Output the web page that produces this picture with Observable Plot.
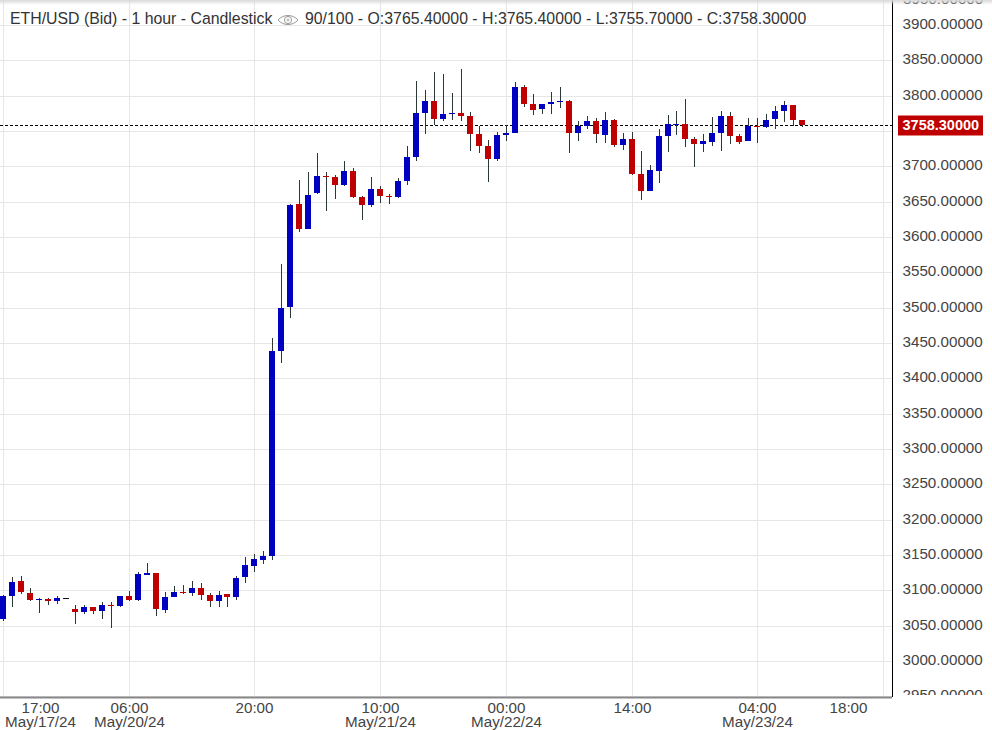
<!DOCTYPE html>
<html>
<head>
<meta charset="utf-8">
<script src="https://cdn.jsdelivr.net/npm/d3@7"></script>
<script src="https://cdn.jsdelivr.net/npm/@observablehq/plot@0.6"></script>
<style>
  html, body { margin: 0; padding: 0; background: #fff; }
  #wrap { position: relative; width: 992px; height: 730px; overflow: hidden; font-family: "Liberation Sans", Arial, sans-serif; }
  #shade { position: absolute; left: 0; top: 0; width: 992px; height: 5px; background: linear-gradient(#d9d9d9, rgba(255,255,255,0)); }
  #title { position: absolute; left: 10px; top: 10px; font-size: 15.85px; line-height: 18px; color: #333; white-space: nowrap; }
  #title svg { position: absolute; left: 267px; top: 3px; }
  #title .ohlc { position: absolute; left: 295px; top: 0; }
</style>
</head>
<body>
<div id="wrap">
  <div id="chart"></div>
  <div id="shade"></div>
  <div id="title">ETH/USD (Bid) - 1 hour - Candlestick
    <svg width="22" height="14" viewBox="0 0 22 14"><path d="M1 7 C6 1 16 1 21 7 C16 13 6 13 1 7 Z" fill="none" stroke="#999" stroke-width="1"/><circle cx="11" cy="7" r="3.6" fill="none" stroke="#999" stroke-width="1"/><circle cx="11" cy="7" r="1.4" fill="#bbb"/></svg>
    <span class="ohlc">90/100 - O:3765.40000 - H:3765.40000 - L:3755.70000 - C:3758.30000</span>
  </div>
</div>
<script>
const opens = [3059.5,3092,3113.4,3096.4,3086.4,3087.9,3085,3088.8,3073.7,3069.4,3076.5,3070.9,3079.4,3078,3092.1,3086.5,3121.9,3124.7,3072.3,3090.7,3097.8,3096.4,3103.5,3093.5,3085,3095,3090.7,3119,3134.6,3143.2,3148.8,3438.7,3501,3647,3611.6,3662.6,3686.6,3685.2,3673.9,3693.7,3656.9,3645.6,3668.2,3658.3,3656.9,3679.6,3713.5,3775.9,3792.8,3767.4,3774.4,3775.9,3771.6,3746.1,3729.1,3710.7,3744.7,3747.5,3812.7,3788.6,3781.5,3788.6,3791.3,3792.8,3747.5,3757.4,3764.5,3744.7,3765.9,3730.5,3739,3689.4,3665.4,3693.7,3743.2,3758.7,3760.2,3739,3731.9,3734.8,3747.5,3771.6,3743.2,3736.2,3757.4,3756,3767.3,3778.6,3787.1,3765.4];
const highs = [3093.5,3119,3120.5,3103.5,3089.3,3089.3,3092,3088.8,3079.4,3079.4,3076.5,3083.6,3083.6,3092.1,3099.2,3126.1,3138.9,3124.7,3097.8,3106.3,3107.7,3113.4,3110.5,3096.4,3099.2,3095,3120.5,3147.4,3151.7,3155.9,3457,3562,3647,3681,3692.3,3719.2,3692.3,3688,3707.9,3698,3658.3,3685.2,3672.5,3661.2,3683.8,3729.1,3821.2,3808.4,3833.9,3831.1,3804.2,3838.2,3777.3,3757.4,3737.6,3748.9,3758.9,3819.7,3815.5,3802.8,3788.6,3805.5,3812.6,3794.2,3764.5,3771.6,3768.7,3777.2,3767.3,3747.5,3748.9,3722,3702.2,3753.2,3773,3778.6,3795.6,3741.8,3746,3770.2,3778.6,3777.2,3746,3768.7,3768.7,3774.4,3785.7,3792.8,3787.1,3765.4];
const lows = [3056.5,3076.5,3095,3085,3068,3079.4,3080.8,3088.8,3052.4,3066.6,3066.6,3059.5,3046.8,3076.5,3085,3085,3121.9,3063.8,3068,3090.7,3095,3092.1,3086.5,3076.5,3076.5,3076.5,3086.5,3110.5,3126.1,3137.5,3143.2,3422.2,3485.5,3607.4,3611.6,3661.2,3637.1,3654.1,3672.5,3655.5,3624.3,3642.7,3648.4,3647,3655.5,3673.9,3707.9,3746.1,3758.9,3764.5,3765.9,3764.5,3722,3719.2,3678.2,3707.9,3736.2,3747.5,3784.4,3773,3774.4,3774.4,3782.9,3719.2,3736.2,3753.2,3733.3,3733.3,3727.7,3723.4,3688,3652.6,3665.4,3676.7,3720.6,3744.7,3727.7,3699.4,3720.6,3729.1,3722,3731.9,3731.9,3736.2,3733.3,3754.6,3753.2,3763.1,3757.4,3755.7];
const closes = [3092,3112,3097.8,3086.5,3087.9,3085,3089.3,3088.8,3069.4,3076.5,3070.9,3079.4,3077.9,3092.1,3086.5,3123.3,3124.7,3073.7,3090.7,3097.8,3096.3,3103.5,3093.5,3085,3093.5,3090.7,3117.6,3136,3144.6,3148.8,3438.7,3499.6,3645.5,3611.6,3659.7,3686.6,3685.1,3673.9,3693.7,3656.9,3645.6,3668.2,3658.3,3656.8,3679.6,3713.5,3775.9,3792.8,3767.4,3774.4,3775.9,3771.6,3746.1,3729.1,3710.7,3744.7,3747.5,3812.7,3788.6,3780.1,3788.6,3791.4,3792.8,3747.5,3757.4,3764.5,3746.1,3765.9,3730.5,3739,3689.4,3665.4,3695.1,3743.2,3760.2,3760.2,3739,3731.9,3736.2,3747.5,3771.6,3743.2,3734.8,3757.4,3755.9,3765.9,3778.6,3787.1,3765.9,3758.3];

const priceTicks = [2950,3000,3050,3100,3150,3200,3250,3300,3350,3400,3450,3500,3550,3600,3650,3700,3750,3800,3850,3900];
const coveredPrice = 3750;
const clampedPrice = 3950;
const gridHours = [0,14,28,42,56,70,84,98];
const timeLabels = ["17:00","06:00","20:00","10:00","00:00","14:00","04:00","18:00"];
const timeLabelHours = [4.12,14,28,42,56,70,84,94.1];
const dateLabels = ["May/17/24","May/20/24","May/21/24","May/22/24","May/23/24"];
const dateLabelHours = [4.12,14,42,56,84];
const lastClose = 3758.3;

const candles = opens.map((o, i) => ({i, o, h: highs[i], l: lows[i], c: closes[i]}));
const up = "#0000c0", down = "#bf0000", wick = "#2b3838", grid = "#e6e6e6", ink = "#444";
const xDomain = [-0.334, 98.998];
const yDomain = [2949.1, 3935.4];

const chart = Plot.plot({
  width: 992, height: 730,
  marginLeft: 0, marginRight: 100, marginTop: 0, marginBottom: 33,
  style: {fontFamily: '"Liberation Sans", Arial, sans-serif', fontSize: "15px", background: "#fff", overflow: "hidden"},
  x: {domain: xDomain, round: true, axis: null},
  y: {domain: yDomain, round: true, axis: null},
  marks: [
    Plot.ruleY(priceTicks, {stroke: grid, strokeWidth: 1}),
    Plot.ruleX(gridHours, {stroke: grid, strokeWidth: 1}),
    Plot.ruleY([lastClose], {stroke: "#000", strokeWidth: 1, strokeDasharray: "3,2"}),
    Plot.ruleX(candles, {x: "i", y1: "l", y2: "h", stroke: wick, strokeWidth: 1}),
    Plot.ruleX(candles.filter(d => d.o !== d.c), {x: "i", y1: "o", y2: "c", stroke: d => d.c > d.o ? up : down, strokeWidth: 6, dx: -0.5}),
    Plot.ruleY(candles.filter(d => d.o === d.c), {y: "o", x1: d => d.i - 0.33, x2: d => d.i + 0.33, stroke: "#111", strokeWidth: 1}),
    Plot.ruleX([xDomain[1]], {stroke: "#000", strokeWidth: 1}),
    Plot.ruleY([yDomain[0]], {stroke: "#888", strokeWidth: 2}),
    Plot.axisY(priceTicks.filter(d => d !== coveredPrice), {anchor: "right", tickSize: 0, tickPadding: 10, tickFormat: d => d.toFixed(5), fontSize: 15.2, color: ink, label: null, dy: -1}),
    Plot.text([clampedPrice], {y: d => d, frameAnchor: "right", dx: 10.5, dy: 9, textAnchor: "start", text: d => d.toFixed(5), fontSize: 15.2, fill: ink}),
    Plot.ruleY([lastClose], {x1: 99.63, x2: 109.13, stroke: down, strokeWidth: 20}),
    Plot.text([lastClose], {y: d => d, frameAnchor: "right", dx: 10, textAnchor: "start", text: d => d.toFixed(5), fontSize: 14.5, fontWeight: "bold", fill: "#fff"}),
    Plot.text(timeLabels, {x: (d, i) => timeLabelHours[i], frameAnchor: "bottom", dy: 11, text: d => d, fontSize: 15.2, fill: ink, lineAnchor: "middle"}),
    Plot.text(dateLabels, {x: (d, i) => dateLabelHours[i], frameAnchor: "bottom", dy: 25, text: d => d, fontSize: 15.2, fill: ink, lineAnchor: "middle"})
  ]
});
document.getElementById("chart").appendChild(chart);

// the price scale's labels stop at the bottom rule, as in the terminal
const svg = d3.select(chart);
svg.append("defs").append("clipPath").attr("id", "priceClip").append("rect").attr("width", 992).attr("height", 695.5);
svg.selectAll('g[aria-label="y-axis tick label"]').attr("clip-path", "url(#priceClip)");
</script>
</body>
</html>
